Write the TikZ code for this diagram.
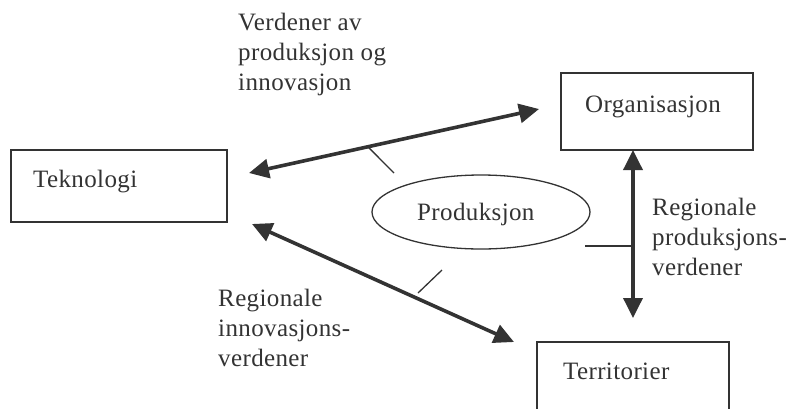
\documentclass[tikz,border=0pt]{standalone}
\usepackage{fontspec}
\setmainfont[LetterSpace=1.5]{Liberation Serif}
\usetikzlibrary{arrows.meta,calc}
\definecolor{ink}{HTML}{333333}
\begin{document}
\begin{tikzpicture}[x=1pt,y=-1pt,
  box/.style={draw=ink,line width=1.4pt,rectangle,inner sep=0pt},
  lbl/.style={text=ink,inner sep=0pt,anchor=base west,font=\fontsize{25}{30}\selectfont},
  bigarrow/.style={draw=ink,line width=3.6pt,{Triangle[length=20pt,width=19pt]}-{Triangle[length=20pt,width=19pt]}},
  tick/.style={draw=ink,line width=1.3pt}]
\useasboundingbox (0,0) rectangle (793,408);
\clip (0,0) rectangle (793,408);
% boxes
\node[box,minimum width=216pt,minimum height=72pt] (tek) at (119,186) {};
\node[box,minimum width=192pt,minimum height=77pt] (org) at (657,111.5) {};
\node[box,minimum width=192pt,minimum height=90pt] (ter) at (633,387) {};
\node[lbl] (tekt) at (33,187) {Teknologi};
\node[lbl] (orgt) at (585,112) {Organisasjon};
\node[lbl] (tert) at (563,379) {Territorier};
% ellipse
\draw[ink,line width=1.3pt] (481,212) ellipse[x radius=109,y radius=37];
\node[lbl] (prod) at (417,220) {Produksjon};
% arrow ends
\coordinate (a1s) at (249,173);
\coordinate (a1e) at (539,109);
\coordinate (a2s) at (252,224);
\coordinate (a2e) at (514,342);
\coordinate (a3s) at (633,150);
\coordinate (a3e) at (633,318);
\draw[bigarrow] (a1s) -- (a1e);
\draw[bigarrow] (a2s) -- (a2e);
\draw[bigarrow] (a3s) -- (a3e);
% ticks
\coordinate (t1) at (394,173);
\coordinate (t2) at (442,270);
\coordinate (t3) at (585,246);
\draw[tick] ($(a1s)!0.41!(a1e)$) -- (t1);
\draw[tick] (418,293) -- (t2);
\draw[tick] (633,246) -- (t3);
% labels
\node[lbl] (top) at (238,30) {\begin{tabular}[t]{@{}l@{}}Verdener av\\produksjon og\\innovasjon\end{tabular}};
\node[lbl] (rgt) at (652,215) {\begin{tabular}[t]{@{}l@{}}Regionale\\produksjons-\\verdener\end{tabular}};
\node[lbl] (lft) at (218,306) {\begin{tabular}[t]{@{}l@{}}Regionale\\innovasjons-\\verdener\end{tabular}};
\end{tikzpicture}
\end{document}
